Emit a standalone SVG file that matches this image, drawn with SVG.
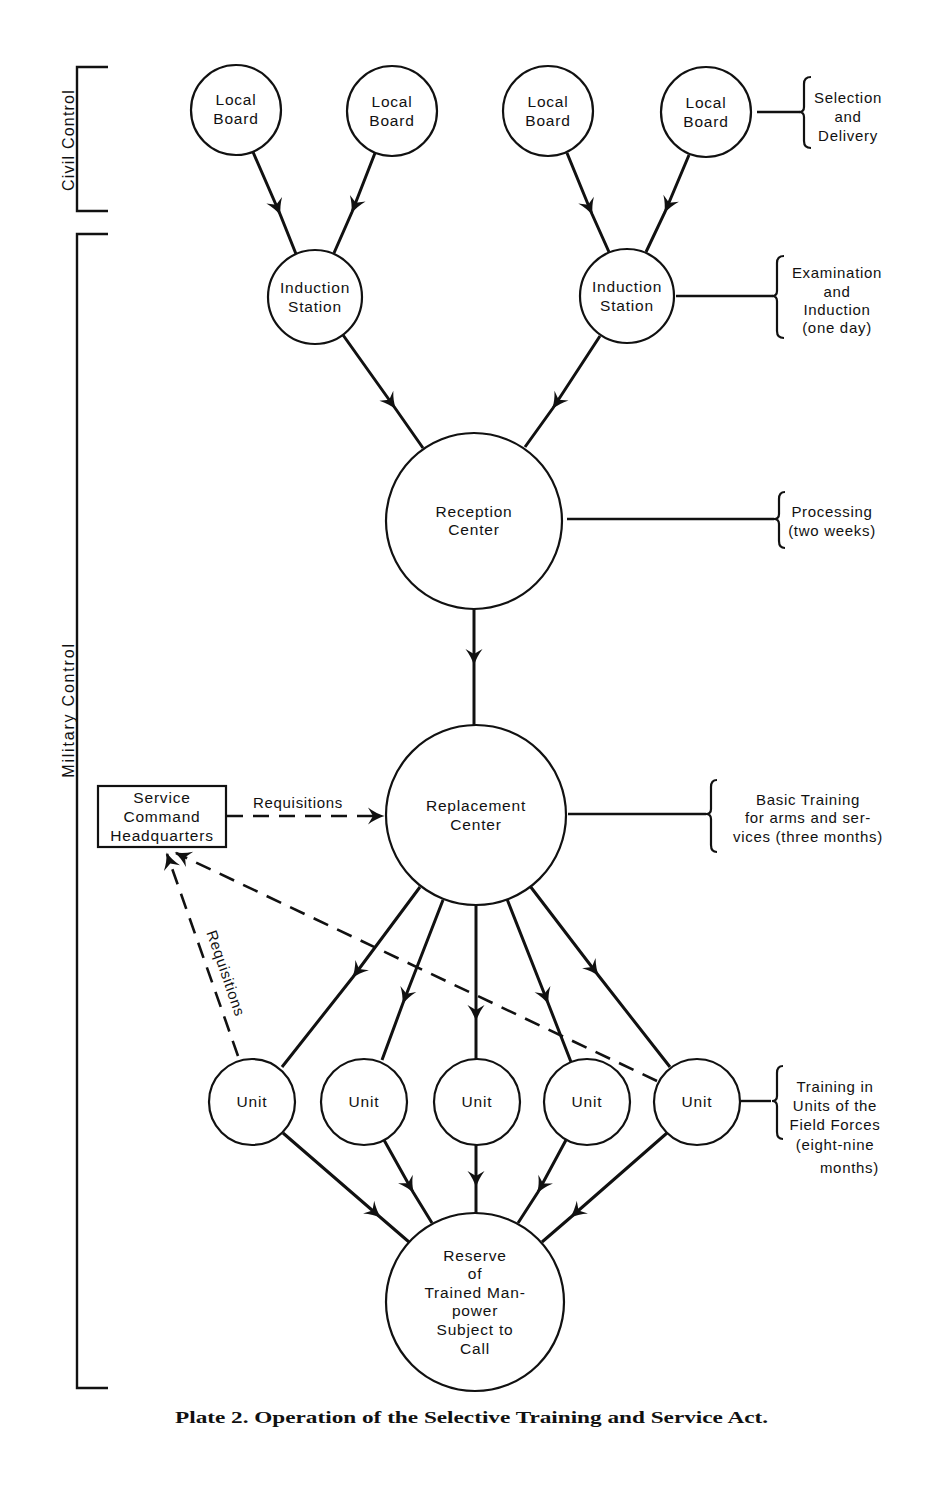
<svg xmlns="http://www.w3.org/2000/svg" width="933" height="1500" viewBox="0 0 933 1500">
<style>
  .node { fill: #fff; stroke: #111; stroke-width: 2.2; }
  .box { fill: #fff; stroke: #111; stroke-width: 2.2; }
  .t { font-family: "Liberation Sans", Arial, sans-serif; font-size: 15.5px; fill: #111; text-anchor: middle; letter-spacing: 0.8px; }
  .lab { font-family: "Liberation Sans", Arial, sans-serif; font-size: 15px; fill: #111; text-anchor: middle; letter-spacing: 0.7px; }
  .side { font-family: "Liberation Sans", Arial, sans-serif; font-size: 16px; fill: #111; text-anchor: middle; letter-spacing: 1.2px; }
  .conn { fill: none; stroke: #111; stroke-width: 3; marker-mid: url(#arr); }
  .dash { fill: none; stroke: #111; stroke-width: 2.6; stroke-dasharray: 16 10; marker-end: url(#arr); }
  .plain { fill: none; stroke: #111; stroke-width: 2.4; }
  .brace { fill: none; stroke: #111; stroke-width: 2.2; }
  .cap { font-family: "Liberation Serif", "Times New Roman", serif; font-weight: bold; font-size: 16px; fill: #111; }
</style>
<defs>
  <marker id="arr" markerUnits="userSpaceOnUse" viewBox="-18 -10 20 20" refX="0" refY="0" markerWidth="20" markerHeight="20" orient="auto" overflow="visible">
    <path d="M1.5,0 Q-7,-2.5 -15,-8.5 L-10,0 L-15,8.5 Q-7,2.5 1.5,0 Z" fill="#111"/>
  </marker>
</defs>
<rect width="933" height="1500" fill="#fff"/>

<!-- side brackets -->
<g id="civil-control">
  <path class="plain" d="M108,67 L77,67 L77,211 L108,211"/>
  <text class="side" transform="translate(74,140) rotate(-90)">Civil  Control</text>
</g>
<g id="military-control">
  <path class="plain" d="M108,234 L77,234 L77,1388 L108,1388"/>
  <text class="side" transform="translate(74,710) rotate(-90)" style="letter-spacing:1.8px">Military  Control</text>
</g>

<!-- connectors -->
<g id="connectors">
  <path class="conn" d="M253,152 L280,214 L296,254"/>
  <path class="conn" d="M375,153 L352,212 L334,253"/>
  <path class="conn" d="M567,153 L592,214 L609,252"/>
  <path class="conn" d="M689,155 L665,212 L646,252"/>
  <path class="conn" d="M343,335 L395,408 L423,448"/>
  <path class="conn" d="M600,336 L553,408 L525,447"/>
  <path class="conn" d="M474,609 L474,664 L474,725"/>
  <path class="conn" d="M420,887 L353,977 L282,1067"/>
  <path class="conn" d="M443,900 L403,1003 L382,1060"/>
  <path class="conn" d="M476,905 L476,1020 L476,1059"/>
  <path class="conn" d="M507,899 L548,1003 L571,1062"/>
  <path class="conn" d="M530,886 L598,975 L670,1067"/>
  <path class="conn" d="M283,1133 L380,1217 L409,1242"/>
  <path class="conn" d="M384,1140 L413,1192 L432,1223"/>
  <path class="conn" d="M476,1145 L476,1186 L476,1213"/>
  <path class="conn" d="M566,1140 L538,1192 L518,1223"/>
  <path class="conn" d="M667,1133 L571,1217 L542,1242"/>
  <path class="dash" d="M227,816 L383,816"/>
  <path class="dash" d="M238,1056 L167,854"/>
  <path class="dash" d="M657,1081 L176,853"/>
  <text class="lab" x="298" y="808">Requisitions</text>
  <text class="lab" transform="translate(221,975) rotate(71)">Requisitions</text>
  <!-- annotation leaders and braces -->
  <path class="plain" d="M757,112 L800,112"/>
  <path class="brace" d="M811,77 Q804,77 804,84 L804,107 Q804,112 799,112 Q804,112 804,117 L804,141 Q804,148 811,148"/>
  <path class="plain" d="M676,296 L773,296"/>
  <path class="brace" d="M784,256 Q777,256 777,263 L777,291 Q777,296 772,296 Q777,296 777,301 L777,331 Q777,338 784,338"/>
  <path class="plain" d="M567,519 L774,519"/>
  <path class="brace" d="M785,492 Q779,492 779,499 L779,514 Q779,519 774,519 Q779,519 779,524 L779,541 Q779,548 785,548"/>
  <path class="plain" d="M568,814 L706,814"/>
  <path class="brace" d="M717,780 Q711,780 711,787 L711,809 Q711,814 706,814 Q711,814 711,819 L711,845 Q711,852 717,852"/>
  <path class="plain" d="M741,1101 L771,1101"/>
  <path class="brace" d="M783,1066 Q777,1066 777,1073 L777,1096 Q777,1101 772,1101 Q777,1101 777,1106 L777,1132 Q777,1139 783,1139"/>
</g>

<!-- nodes -->
<g id="local-board-1"><circle class="node" cx="236" cy="110" r="45"/><text class="t" x="236" y="105">Local</text><text class="t" x="236" y="124">Board</text></g>
<g id="local-board-2"><circle class="node" cx="392" cy="111" r="45"/><text class="t" x="392" y="107">Local</text><text class="t" x="392" y="126">Board</text></g>
<g id="local-board-3"><circle class="node" cx="548" cy="111" r="45"/><text class="t" x="548" y="107">Local</text><text class="t" x="548" y="126">Board</text></g>
<g id="local-board-4"><circle class="node" cx="706" cy="112" r="45"/><text class="t" x="706" y="108">Local</text><text class="t" x="706" y="127">Board</text></g>
<g id="induction-station-1"><circle class="node" cx="315" cy="297" r="47"/><text class="t" x="315" y="293">Induction</text><text class="t" x="315" y="312">Station</text></g>
<g id="induction-station-2"><circle class="node" cx="627" cy="296" r="47"/><text class="t" x="627" y="292">Induction</text><text class="t" x="627" y="311">Station</text></g>
<g id="reception-center"><circle class="node" cx="474" cy="521" r="88"/><text class="t" x="474" y="517">Reception</text><text class="t" x="474" y="535">Center</text></g>
<g id="replacement-center"><circle class="node" cx="476" cy="815" r="90"/><text class="t" x="476" y="811">Replacement</text><text class="t" x="476" y="830">Center</text></g>
<g id="service-command-hq"><rect class="box" x="98" y="786" width="128" height="61"/><text class="t" x="162" y="803">Service</text><text class="t" x="162" y="822">Command</text><text class="t" x="162" y="841">Headquarters</text></g>
<g id="unit-1"><circle class="node" cx="252" cy="1102" r="43"/><text class="t" x="252" y="1107">Unit</text></g>
<g id="unit-2"><circle class="node" cx="364" cy="1102" r="43"/><text class="t" x="364" y="1107">Unit</text></g>
<g id="unit-3"><circle class="node" cx="477" cy="1102" r="43"/><text class="t" x="477" y="1107">Unit</text></g>
<g id="unit-4"><circle class="node" cx="587" cy="1102" r="43"/><text class="t" x="587" y="1107">Unit</text></g>
<g id="unit-5"><circle class="node" cx="697" cy="1102" r="43"/><text class="t" x="697" y="1107">Unit</text></g>
<g id="reserve"><circle class="node" cx="475" cy="1302" r="89"/>
  <text class="t" x="475" y="1261">Reserve</text><text class="t" x="475" y="1279">of</text><text class="t" x="475" y="1298">Trained Man-</text><text class="t" x="475" y="1316">power</text><text class="t" x="475" y="1335">Subject to</text><text class="t" x="475" y="1354">Call</text></g>

<!-- annotations -->
<g id="note-selection"><text class="lab" x="848" y="103">Selection</text><text class="lab" x="848" y="122">and</text><text class="lab" x="848" y="141">Delivery</text></g>
<g id="note-examination"><text class="lab" x="837" y="278">Examination</text><text class="lab" x="837" y="297">and</text><text class="lab" x="837" y="315">Induction</text><text class="lab" x="837" y="333">(one day)</text></g>
<g id="note-processing"><text class="lab" x="832" y="517">Processing</text><text class="lab" x="832" y="536">(two weeks)</text></g>
<g id="note-basic"><text class="lab" x="808" y="805">Basic Training</text><text class="lab" x="808" y="823">for arms and ser-</text><text class="lab" x="808" y="842">vices (three months)</text></g>
<g id="note-units"><text class="lab" x="835" y="1092">Training in</text><text class="lab" x="835" y="1111">Units of the</text><text class="lab" x="835" y="1130">Field Forces</text><text class="lab" x="835" y="1150">(eight-nine</text><text class="lab" x="879" y="1173" style="text-anchor:end">months)</text></g>

<text class="cap" x="175" y="1423" textLength="593" lengthAdjust="spacingAndGlyphs">Plate 2.  Operation of the Selective Training and Service Act.</text>
</svg>
